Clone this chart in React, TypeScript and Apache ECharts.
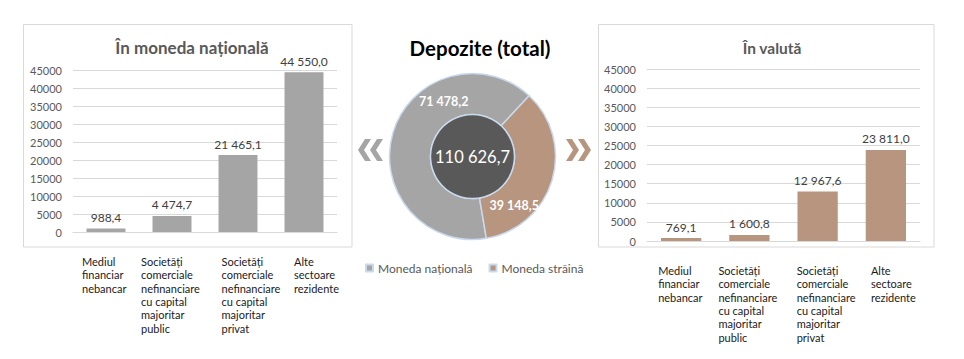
import React, { useEffect, useRef } from "react";
import * as echarts from "echarts";

const categories = [
  "Mediul\nfinanciar\nnebancar",
  "Societăți\ncomerciale\nnefinanciare\ncu capital\nmajoritar\npublic",
  "Societăți\ncomerciale\nnefinanciare\ncu capital\nmajoritar\nprivat",
  "Alte\nsectoare\nrezidente",
];
const nationalValues = [988.4, 4474.7, 21465.1, 44550.0];
const foreignValues = [769.1, 1600.8, 12967.6, 23811.0];
const pieNames = ["Moneda națională", "Moneda străină"];
const pieValues = [71478.2, 39148.5];
const totalValue = 110626.7;
const titles = ["În moneda națională", "Depozite (total)", "În valută"];

const GRAY = "#a5a5a5";
const BROWN = "#b8957e";
const FONT = "Lato, 'Noto Sans', sans-serif";

const fmt = (v: number) => {
  const [i, d] = v.toFixed(1).split(".");
  return i.replace(/\B(?=(\d{3})+(?!\d))/g, " ") + "," + d;
};

function catLabel(widths: number[]) {
  const rich: any = {};
  widths.forEach((w, i) => {
    rich["c" + i] = { width: w, align: "left", lineHeight: 13.3, fontSize: 11, color: "#1a1a1a", fontFamily: FONT };
  });
  return {
    interval: 0,
    margin: 23,
    formatter: (value: string, index: number) =>
      value.split("\n").map((l) => `{c${index}|${l}}`).join("\n"),
    rich,
  };
}

// dir = 1 -> pointing left, dir = -1 -> pointing right
function chevron(dir: number, x: number, y: number, color: string) {
  const one = (ox: number) => {
    const pts = [[7, 0], [13, 0], [6, 11], [13, 22], [7, 22], [0, 11]].map(([px, py]) => [
      dir > 0 ? ox + px : 25 - (ox + px),
      py,
    ]);
    return { type: "polygon", shape: { points: pts }, style: { fill: color } };
  };
  return { type: "group", x, y, children: [one(0), one(12)] };
}

export default function App() {
  const ref = useRef<HTMLDivElement>(null);
  useEffect(() => {
    document.body.style.margin = "0";
    const chart = echarts.init(ref.current!, undefined, { renderer: "svg" });
    const valueAxis = (gridIndex: number) => ({
      type: "value",
      gridIndex,
      min: 0,
      max: 45000,
      interval: 5000,
      axisLine: { show: false },
      axisTick: { show: false },
      splitLine: { lineStyle: { color: "#d9d9d9" } },
      axisLabel: { color: "#595959", fontSize: 11, fontFamily: FONT, margin: 11, formatter: (v: number) => String(v) },
    });
    const catAxis = (gridIndex: number, widths: number[]) => ({
      type: "category",
      gridIndex,
      data: categories,
      axisLine: { lineStyle: { color: "#d9d9d9" } },
      axisTick: { show: false },
      axisLabel: catLabel(widths),
    });
    const barLabel = {
      show: true,
      position: "top",
      distance: 5,
      color: "#404040",
      fontSize: 12,
      fontFamily: FONT,
      formatter: (p: any) => fmt(p.value),
    };
    const option: any = {
      animation: false,
      textStyle: { fontFamily: FONT },
      title: [
        { text: titles[0], left: 187, top: 34, textAlign: "center", textStyle: { fontSize: 17, fontWeight: "bold", color: "#595959", fontFamily: FONT } },
        { text: titles[1], left: 475, top: 32, textAlign: "center", textStyle: { fontSize: 20.5, fontWeight: "bold", color: "#000000", fontFamily: FONT } },
        { text: titles[2], left: 767, top: 35, textAlign: "center", textStyle: { fontSize: 15.5, fontWeight: "bold", color: "#595959", fontFamily: FONT } },
      ],
      legend: {
        data: pieNames,
        left: 365,
        top: 262,
        padding: 0,
        icon: "rect",
        itemWidth: 7,
        itemHeight: 7,
        itemGap: 16,
        textStyle: { color: "#595959", fontSize: 12, fontFamily: FONT },
      },
      grid: [
        { left: 73, width: 264, top: 70.7, height: 161.3 },
        { left: 647, width: 273, top: 69, height: 172 },
      ],
      xAxis: [catAxis(0, [48, 62, 33, 20]), catAxis(1, [46, 62, 42, 30])],
      yAxis: [valueAxis(0), valueAxis(1)],
      series: [
        {
          type: "bar",
          xAxisIndex: 0,
          yAxisIndex: 0,
          data: nationalValues,
          barWidth: "59%",
          itemStyle: { color: GRAY },
          label: barLabel,
        },
        {
          type: "bar",
          xAxisIndex: 1,
          yAxisIndex: 1,
          data: foreignValues,
          barWidth: "59%",
          itemStyle: { color: BROWN },
          label: barLabel,
        },
        {
          type: "pie",
          center: [472.5, 156.5],
          radius: [42, 83],
          startAngle: -80.4,
          clockwise: true,
          silent: true,
          data: pieNames.map((n, i) => ({ name: n, value: pieValues[i], itemStyle: { color: i === 0 ? GRAY : BROWN } })),
          itemStyle: { borderColor: "#c9d9ee", borderWidth: 1.5 },
          label: {
            show: true,
            position: "inside",
            color: "#ffffff",
            fontWeight: "bold",
            fontSize: 12.5,
            fontFamily: FONT,
            formatter: (p: any) => fmt(p.value),
          },
          labelLine: { show: false },
          labelLayout: (p: any) => (p.dataIndex === 0 ? { dx: 34, dy: -36 } : { dx: -21, dy: 30 }),
        },
        {
          type: "pie",
          center: [472.5, 156.5],
          radius: [0, 42],
          silent: true,
          data: [{ name: "Total", value: totalValue }],
          itemStyle: { color: "#595959", borderColor: "#c9d9ee", borderWidth: 1.5 },
          label: {
            show: true,
            position: "center",
            color: "#ffffff",
            fontSize: 16.5,
            fontFamily: FONT,
            formatter: () => fmt(totalValue),
          },
          labelLine: { show: false },
        },
      ],
      graphic: [
        { type: "rect", shape: { x: 23.5, y: 24.5, width: 328.5, height: 222.5 }, style: { fill: "none", stroke: "#d9d9d9", lineWidth: 1 }, silent: true },
        { type: "rect", shape: { x: 598.5, y: 24.5, width: 335.5, height: 222.5 }, style: { fill: "none", stroke: "#d9d9d9", lineWidth: 1 }, silent: true },
        chevron(1, 358, 139, GRAY),
        chevron(-1, 566, 139, BROWN),
      ],
    };
    chart.setOption(option);
    return () => chart.dispose();
  }, []);
  return <div ref={ref} style={{ width: 964, height: 359 }} />;
}
